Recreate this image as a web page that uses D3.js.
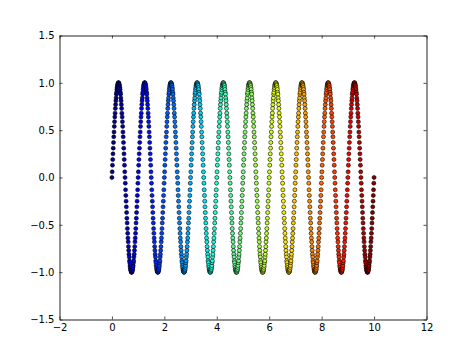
<!DOCTYPE html>
<html>
<head>
<meta charset="utf-8">
<script src="https://cdn.jsdelivr.net/npm/d3@7"></script>
<style>
  body { margin: 0; background: #fff; }
  text { font-family: "DejaVu Sans", sans-serif; }
</style>
</head>
<body>
<script>
// x positions of the scatter points, one line per cycle
const xVals = [
0,0.01,0.02,0.03,0.04,0.05,0.06,0.07,0.08,0.09,0.1,0.11,0.12,0.13,0.14,0.15,0.16,0.17,0.18,0.19,0.2,0.21,0.22,0.23,0.24,0.25,0.26,0.27,0.28,0.29,0.3,0.31,0.32,0.33,0.34,0.35,0.36,0.37,0.38,0.39,0.4,0.41,0.42,0.43,0.44,0.45,0.46,0.47,0.48,0.49,0.5,0.51,0.52,0.53,0.54,0.55,0.56,0.57,0.58,0.59,0.6,0.61,0.62,0.63,0.64,0.65,0.66,0.67,0.68,0.69,0.7,0.71,0.72,0.73,0.74,0.75,0.76,0.77,0.78,0.79,0.8,0.81,0.82,0.83,0.84,0.85,0.86,0.87,0.88,0.89,0.9,0.91,0.92,0.93,0.94,0.95,0.96,0.97,0.98,0.99,
1,1.01,1.02,1.03,1.04,1.05,1.06,1.07,1.08,1.09,1.1,1.11,1.12,1.13,1.14,1.15,1.16,1.17,1.18,1.19,1.2,1.21,1.22,1.23,1.24,1.25,1.26,1.27,1.28,1.29,1.3,1.31,1.32,1.33,1.34,1.35,1.36,1.37,1.38,1.39,1.4,1.41,1.42,1.43,1.44,1.45,1.46,1.47,1.48,1.49,1.5,1.51,1.52,1.53,1.54,1.55,1.56,1.57,1.58,1.59,1.6,1.61,1.62,1.63,1.64,1.65,1.66,1.67,1.68,1.69,1.7,1.71,1.72,1.73,1.74,1.75,1.76,1.77,1.78,1.79,1.8,1.81,1.82,1.83,1.84,1.85,1.86,1.87,1.88,1.89,1.9,1.91,1.92,1.93,1.94,1.95,1.96,1.97,1.98,1.99,
2,2.01,2.02,2.03,2.04,2.05,2.06,2.07,2.08,2.09,2.1,2.11,2.12,2.13,2.14,2.15,2.16,2.17,2.18,2.19,2.2,2.21,2.22,2.23,2.24,2.25,2.26,2.27,2.28,2.29,2.3,2.31,2.32,2.33,2.34,2.35,2.36,2.37,2.38,2.39,2.4,2.41,2.42,2.43,2.44,2.45,2.46,2.47,2.48,2.49,2.5,2.51,2.52,2.53,2.54,2.55,2.56,2.57,2.58,2.59,2.6,2.61,2.62,2.63,2.64,2.65,2.66,2.67,2.68,2.69,2.7,2.71,2.72,2.73,2.74,2.75,2.76,2.77,2.78,2.79,2.8,2.81,2.82,2.83,2.84,2.85,2.86,2.87,2.88,2.89,2.9,2.91,2.92,2.93,2.94,2.95,2.96,2.97,2.98,2.99,
3,3.01,3.02,3.03,3.04,3.05,3.06,3.07,3.08,3.09,3.1,3.11,3.12,3.13,3.14,3.15,3.16,3.17,3.18,3.19,3.2,3.21,3.22,3.23,3.24,3.25,3.26,3.27,3.28,3.29,3.3,3.31,3.32,3.33,3.34,3.35,3.36,3.37,3.38,3.39,3.4,3.41,3.42,3.43,3.44,3.45,3.46,3.47,3.48,3.49,3.5,3.51,3.52,3.53,3.54,3.55,3.56,3.57,3.58,3.59,3.6,3.61,3.62,3.63,3.64,3.65,3.66,3.67,3.68,3.69,3.7,3.71,3.72,3.73,3.74,3.75,3.76,3.77,3.78,3.79,3.8,3.81,3.82,3.83,3.84,3.85,3.86,3.87,3.88,3.89,3.9,3.91,3.92,3.93,3.94,3.95,3.96,3.97,3.98,3.99,
4,4.01,4.02,4.03,4.04,4.05,4.06,4.07,4.08,4.09,4.1,4.11,4.12,4.13,4.14,4.15,4.16,4.17,4.18,4.19,4.2,4.21,4.22,4.23,4.24,4.25,4.26,4.27,4.28,4.29,4.3,4.31,4.32,4.33,4.34,4.35,4.36,4.37,4.38,4.39,4.4,4.41,4.42,4.43,4.44,4.45,4.46,4.47,4.48,4.49,4.5,4.51,4.52,4.53,4.54,4.55,4.56,4.57,4.58,4.59,4.6,4.61,4.62,4.63,4.64,4.65,4.66,4.67,4.68,4.69,4.7,4.71,4.72,4.73,4.74,4.75,4.76,4.77,4.78,4.79,4.8,4.81,4.82,4.83,4.84,4.85,4.86,4.87,4.88,4.89,4.9,4.91,4.92,4.93,4.94,4.95,4.96,4.97,4.98,4.99,
5,5.01,5.02,5.03,5.04,5.05,5.06,5.07,5.08,5.09,5.1,5.11,5.12,5.13,5.14,5.15,5.16,5.17,5.18,5.19,5.2,5.21,5.22,5.23,5.24,5.25,5.26,5.27,5.28,5.29,5.3,5.31,5.32,5.33,5.34,5.35,5.36,5.37,5.38,5.39,5.4,5.41,5.42,5.43,5.44,5.45,5.46,5.47,5.48,5.49,5.5,5.51,5.52,5.53,5.54,5.55,5.56,5.57,5.58,5.59,5.6,5.61,5.62,5.63,5.64,5.65,5.66,5.67,5.68,5.69,5.7,5.71,5.72,5.73,5.74,5.75,5.76,5.77,5.78,5.79,5.8,5.81,5.82,5.83,5.84,5.85,5.86,5.87,5.88,5.89,5.9,5.91,5.92,5.93,5.94,5.95,5.96,5.97,5.98,5.99,
6,6.01,6.02,6.03,6.04,6.05,6.06,6.07,6.08,6.09,6.1,6.11,6.12,6.13,6.14,6.15,6.16,6.17,6.18,6.19,6.2,6.21,6.22,6.23,6.24,6.25,6.26,6.27,6.28,6.29,6.3,6.31,6.32,6.33,6.34,6.35,6.36,6.37,6.38,6.39,6.4,6.41,6.42,6.43,6.44,6.45,6.46,6.47,6.48,6.49,6.5,6.51,6.52,6.53,6.54,6.55,6.56,6.57,6.58,6.59,6.6,6.61,6.62,6.63,6.64,6.65,6.66,6.67,6.68,6.69,6.7,6.71,6.72,6.73,6.74,6.75,6.76,6.77,6.78,6.79,6.8,6.81,6.82,6.83,6.84,6.85,6.86,6.87,6.88,6.89,6.9,6.91,6.92,6.93,6.94,6.95,6.96,6.97,6.98,6.99,
7,7.01,7.02,7.03,7.04,7.05,7.06,7.07,7.08,7.09,7.1,7.11,7.12,7.13,7.14,7.15,7.16,7.17,7.18,7.19,7.2,7.21,7.22,7.23,7.24,7.25,7.26,7.27,7.28,7.29,7.3,7.31,7.32,7.33,7.34,7.35,7.36,7.37,7.38,7.39,7.4,7.41,7.42,7.43,7.44,7.45,7.46,7.47,7.48,7.49,7.5,7.51,7.52,7.53,7.54,7.55,7.56,7.57,7.58,7.59,7.6,7.61,7.62,7.63,7.64,7.65,7.66,7.67,7.68,7.69,7.7,7.71,7.72,7.73,7.74,7.75,7.76,7.77,7.78,7.79,7.8,7.81,7.82,7.83,7.84,7.85,7.86,7.87,7.88,7.89,7.9,7.91,7.92,7.93,7.94,7.95,7.96,7.97,7.98,7.99,
8,8.01,8.02,8.03,8.04,8.05,8.06,8.07,8.08,8.09,8.1,8.11,8.12,8.13,8.14,8.15,8.16,8.17,8.18,8.19,8.2,8.21,8.22,8.23,8.24,8.25,8.26,8.27,8.28,8.29,8.3,8.31,8.32,8.33,8.34,8.35,8.36,8.37,8.38,8.39,8.4,8.41,8.42,8.43,8.44,8.45,8.46,8.47,8.48,8.49,8.5,8.51,8.52,8.53,8.54,8.55,8.56,8.57,8.58,8.59,8.6,8.61,8.62,8.63,8.64,8.65,8.66,8.67,8.68,8.69,8.7,8.71,8.72,8.73,8.74,8.75,8.76,8.77,8.78,8.79,8.8,8.81,8.82,8.83,8.84,8.85,8.86,8.87,8.88,8.89,8.9,8.91,8.92,8.93,8.94,8.95,8.96,8.97,8.98,8.99,
9,9.01,9.02,9.03,9.04,9.05,9.06,9.07,9.08,9.09,9.1,9.11,9.12,9.13,9.14,9.15,9.16,9.17,9.18,9.19,9.2,9.21,9.22,9.23,9.24,9.25,9.26,9.27,9.28,9.29,9.3,9.31,9.32,9.33,9.34,9.35,9.36,9.37,9.38,9.39,9.4,9.41,9.42,9.43,9.44,9.45,9.46,9.47,9.48,9.49,9.5,9.51,9.52,9.53,9.54,9.55,9.56,9.57,9.58,9.59,9.6,9.61,9.62,9.63,9.64,9.65,9.66,9.67,9.68,9.69,9.7,9.71,9.72,9.73,9.74,9.75,9.76,9.77,9.78,9.79,9.8,9.81,9.82,9.83,9.84,9.85,9.86,9.87,9.88,9.89,9.9,9.91,9.92,9.93,9.94,9.95,9.96,9.97,9.98,9.99,
10
];

const yVals = [
0,0.06,0.13,0.19,0.25,0.31,0.37,0.43,0.48,0.54,0.59,0.64,0.68,0.73,0.77,0.81,0.84,0.88,0.9,0.93,0.95,0.97,0.98,0.99,1,1,1,0.99,0.98,0.97,0.95,0.93,0.9,0.88,0.84,0.81,0.77,0.73,0.68,0.64,0.59,0.54,0.48,0.43,0.37,0.31,0.25,0.19,0.13,0.06,0,-0.06,-0.13,-0.19,-0.25,-0.31,-0.37,-0.43,-0.48,-0.54,-0.59,-0.64,-0.68,-0.73,-0.77,-0.81,-0.84,-0.88,-0.9,-0.93,-0.95,-0.97,-0.98,-0.99,-1,-1,-1,-0.99,-0.98,-0.97,-0.95,-0.93,-0.9,-0.88,-0.84,-0.81,-0.77,-0.73,-0.68,-0.64,-0.59,-0.54,-0.48,-0.43,-0.37,-0.31,-0.25,-0.19,-0.13,-0.06,
0,0.06,0.13,0.19,0.25,0.31,0.37,0.43,0.48,0.54,0.59,0.64,0.68,0.73,0.77,0.81,0.84,0.88,0.9,0.93,0.95,0.97,0.98,0.99,1,1,1,0.99,0.98,0.97,0.95,0.93,0.9,0.88,0.84,0.81,0.77,0.73,0.68,0.64,0.59,0.54,0.48,0.43,0.37,0.31,0.25,0.19,0.13,0.06,0,-0.06,-0.13,-0.19,-0.25,-0.31,-0.37,-0.43,-0.48,-0.54,-0.59,-0.64,-0.68,-0.73,-0.77,-0.81,-0.84,-0.88,-0.9,-0.93,-0.95,-0.97,-0.98,-0.99,-1,-1,-1,-0.99,-0.98,-0.97,-0.95,-0.93,-0.9,-0.88,-0.84,-0.81,-0.77,-0.73,-0.68,-0.64,-0.59,-0.54,-0.48,-0.43,-0.37,-0.31,-0.25,-0.19,-0.13,-0.06,
0,0.06,0.13,0.19,0.25,0.31,0.37,0.43,0.48,0.54,0.59,0.64,0.68,0.73,0.77,0.81,0.84,0.88,0.9,0.93,0.95,0.97,0.98,0.99,1,1,1,0.99,0.98,0.97,0.95,0.93,0.9,0.88,0.84,0.81,0.77,0.73,0.68,0.64,0.59,0.54,0.48,0.43,0.37,0.31,0.25,0.19,0.13,0.06,0,-0.06,-0.13,-0.19,-0.25,-0.31,-0.37,-0.43,-0.48,-0.54,-0.59,-0.64,-0.68,-0.73,-0.77,-0.81,-0.84,-0.88,-0.9,-0.93,-0.95,-0.97,-0.98,-0.99,-1,-1,-1,-0.99,-0.98,-0.97,-0.95,-0.93,-0.9,-0.88,-0.84,-0.81,-0.77,-0.73,-0.68,-0.64,-0.59,-0.54,-0.48,-0.43,-0.37,-0.31,-0.25,-0.19,-0.13,-0.06,
0,0.06,0.13,0.19,0.25,0.31,0.37,0.43,0.48,0.54,0.59,0.64,0.68,0.73,0.77,0.81,0.84,0.88,0.9,0.93,0.95,0.97,0.98,0.99,1,1,1,0.99,0.98,0.97,0.95,0.93,0.9,0.88,0.84,0.81,0.77,0.73,0.68,0.64,0.59,0.54,0.48,0.43,0.37,0.31,0.25,0.19,0.13,0.06,0,-0.06,-0.13,-0.19,-0.25,-0.31,-0.37,-0.43,-0.48,-0.54,-0.59,-0.64,-0.68,-0.73,-0.77,-0.81,-0.84,-0.88,-0.9,-0.93,-0.95,-0.97,-0.98,-0.99,-1,-1,-1,-0.99,-0.98,-0.97,-0.95,-0.93,-0.9,-0.88,-0.84,-0.81,-0.77,-0.73,-0.68,-0.64,-0.59,-0.54,-0.48,-0.43,-0.37,-0.31,-0.25,-0.19,-0.13,-0.06,
0,0.06,0.13,0.19,0.25,0.31,0.37,0.43,0.48,0.54,0.59,0.64,0.68,0.73,0.77,0.81,0.84,0.88,0.9,0.93,0.95,0.97,0.98,0.99,1,1,1,0.99,0.98,0.97,0.95,0.93,0.9,0.88,0.84,0.81,0.77,0.73,0.68,0.64,0.59,0.54,0.48,0.43,0.37,0.31,0.25,0.19,0.13,0.06,0,-0.06,-0.13,-0.19,-0.25,-0.31,-0.37,-0.43,-0.48,-0.54,-0.59,-0.64,-0.68,-0.73,-0.77,-0.81,-0.84,-0.88,-0.9,-0.93,-0.95,-0.97,-0.98,-0.99,-1,-1,-1,-0.99,-0.98,-0.97,-0.95,-0.93,-0.9,-0.88,-0.84,-0.81,-0.77,-0.73,-0.68,-0.64,-0.59,-0.54,-0.48,-0.43,-0.37,-0.31,-0.25,-0.19,-0.13,-0.06,
0,0.06,0.13,0.19,0.25,0.31,0.37,0.43,0.48,0.54,0.59,0.64,0.68,0.73,0.77,0.81,0.84,0.88,0.9,0.93,0.95,0.97,0.98,0.99,1,1,1,0.99,0.98,0.97,0.95,0.93,0.9,0.88,0.84,0.81,0.77,0.73,0.68,0.64,0.59,0.54,0.48,0.43,0.37,0.31,0.25,0.19,0.13,0.06,0,-0.06,-0.13,-0.19,-0.25,-0.31,-0.37,-0.43,-0.48,-0.54,-0.59,-0.64,-0.68,-0.73,-0.77,-0.81,-0.84,-0.88,-0.9,-0.93,-0.95,-0.97,-0.98,-0.99,-1,-1,-1,-0.99,-0.98,-0.97,-0.95,-0.93,-0.9,-0.88,-0.84,-0.81,-0.77,-0.73,-0.68,-0.64,-0.59,-0.54,-0.48,-0.43,-0.37,-0.31,-0.25,-0.19,-0.13,-0.06,
0,0.06,0.13,0.19,0.25,0.31,0.37,0.43,0.48,0.54,0.59,0.64,0.68,0.73,0.77,0.81,0.84,0.88,0.9,0.93,0.95,0.97,0.98,0.99,1,1,1,0.99,0.98,0.97,0.95,0.93,0.9,0.88,0.84,0.81,0.77,0.73,0.68,0.64,0.59,0.54,0.48,0.43,0.37,0.31,0.25,0.19,0.13,0.06,0,-0.06,-0.13,-0.19,-0.25,-0.31,-0.37,-0.43,-0.48,-0.54,-0.59,-0.64,-0.68,-0.73,-0.77,-0.81,-0.84,-0.88,-0.9,-0.93,-0.95,-0.97,-0.98,-0.99,-1,-1,-1,-0.99,-0.98,-0.97,-0.95,-0.93,-0.9,-0.88,-0.84,-0.81,-0.77,-0.73,-0.68,-0.64,-0.59,-0.54,-0.48,-0.43,-0.37,-0.31,-0.25,-0.19,-0.13,-0.06,
0,0.06,0.13,0.19,0.25,0.31,0.37,0.43,0.48,0.54,0.59,0.64,0.68,0.73,0.77,0.81,0.84,0.88,0.9,0.93,0.95,0.97,0.98,0.99,1,1,1,0.99,0.98,0.97,0.95,0.93,0.9,0.88,0.84,0.81,0.77,0.73,0.68,0.64,0.59,0.54,0.48,0.43,0.37,0.31,0.25,0.19,0.13,0.06,0,-0.06,-0.13,-0.19,-0.25,-0.31,-0.37,-0.43,-0.48,-0.54,-0.59,-0.64,-0.68,-0.73,-0.77,-0.81,-0.84,-0.88,-0.9,-0.93,-0.95,-0.97,-0.98,-0.99,-1,-1,-1,-0.99,-0.98,-0.97,-0.95,-0.93,-0.9,-0.88,-0.84,-0.81,-0.77,-0.73,-0.68,-0.64,-0.59,-0.54,-0.48,-0.43,-0.37,-0.31,-0.25,-0.19,-0.13,-0.06,
0,0.06,0.13,0.19,0.25,0.31,0.37,0.43,0.48,0.54,0.59,0.64,0.68,0.73,0.77,0.81,0.84,0.88,0.9,0.93,0.95,0.97,0.98,0.99,1,1,1,0.99,0.98,0.97,0.95,0.93,0.9,0.88,0.84,0.81,0.77,0.73,0.68,0.64,0.59,0.54,0.48,0.43,0.37,0.31,0.25,0.19,0.13,0.06,0,-0.06,-0.13,-0.19,-0.25,-0.31,-0.37,-0.43,-0.48,-0.54,-0.59,-0.64,-0.68,-0.73,-0.77,-0.81,-0.84,-0.88,-0.9,-0.93,-0.95,-0.97,-0.98,-0.99,-1,-1,-1,-0.99,-0.98,-0.97,-0.95,-0.93,-0.9,-0.88,-0.84,-0.81,-0.77,-0.73,-0.68,-0.64,-0.59,-0.54,-0.48,-0.43,-0.37,-0.31,-0.25,-0.19,-0.13,-0.06,
0,0.06,0.13,0.19,0.25,0.31,0.37,0.43,0.48,0.54,0.59,0.64,0.68,0.73,0.77,0.81,0.84,0.88,0.9,0.93,0.95,0.97,0.98,0.99,1,1,1,0.99,0.98,0.97,0.95,0.93,0.9,0.88,0.84,0.81,0.77,0.73,0.68,0.64,0.59,0.54,0.48,0.43,0.37,0.31,0.25,0.19,0.13,0.06,0,-0.06,-0.13,-0.19,-0.25,-0.31,-0.37,-0.43,-0.48,-0.54,-0.59,-0.64,-0.68,-0.73,-0.77,-0.81,-0.84,-0.88,-0.9,-0.93,-0.95,-0.97,-0.98,-0.99,-1,-1,-1,-0.99,-0.98,-0.97,-0.95,-0.93,-0.9,-0.88,-0.84,-0.81,-0.77,-0.73,-0.68,-0.64,-0.59,-0.54,-0.48,-0.43,-0.37,-0.31,-0.25,-0.19,-0.13,-0.06,
0
];

const xTicks = [-2, 0, 2, 4, 6, 8, 10, 12];
const yTicks = [-1.5, -1.0, -0.5, 0.0, 0.5, 1.0, 1.5];

const points = xVals.map((x, i) => ({x: x, y: yVals[i]}));

const width = 474;
const height = 355;
const margin = {top: 35.5, right: 47.5, bottom: 35.5, left: 59.5};

const x = d3.scaleLinear([-2, 12], [margin.left, width - margin.right]);
const y = d3.scaleLinear([-1.5, 1.5], [height - margin.bottom, margin.top]);

// matplotlib "jet" colormap, one piecewise linear scale per channel
const jetR = d3.scaleLinear([0, 0.35, 0.66, 0.89, 1], [0, 0, 1, 1, 0.5]).clamp(true);
const jetG = d3.scaleLinear([0, 0.125, 0.375, 0.64, 0.91, 1], [0, 0, 1, 1, 0, 0]).clamp(true);
const jetB = d3.scaleLinear([0, 0.11, 0.34, 0.65, 1], [0.5, 1, 1, 0, 0]).clamp(true);
const norm = d3.scaleLinear(d3.extent(xVals), [0, 1]);
const color = v => {
    const t = norm(v);
    return d3.rgb(jetR(t) * 255, jetG(t) * 255, jetB(t) * 255).formatHex();
};

const svg = d3.select("body")
    .append("svg")
    .attr("width", width)
    .attr("height", height)
    .attr("viewBox", [0, 0, width, height]);

svg.append("rect")
    .attr("width", width)
    .attr("height", height)
    .attr("fill", "#fff");

// the dots, drawn in order so later ones sit on top
svg.append("g")
    .selectAll("circle")
    .data(points)
    .join("circle")
    .attr("cx", d => x(d.x))
    .attr("cy", d => y(d.y))
    .attr("r", 2)
    .attr("fill", d => color(d.x))
    .attr("stroke", "#000")
    .attr("stroke-width", 0.6);

const fmtY = d3.format(".1f");

// axes: ticks point inward, matplotlib classic style
const axisB = svg.append("g")
    .attr("transform", `translate(0,${height - margin.bottom})`)
    .call(d3.axisBottom(x).tickValues(xTicks).tickSizeInner(-3).tickSizeOuter(0).tickPadding(4));

const axisL = svg.append("g")
    .attr("transform", `translate(${margin.left},0)`)
    .call(d3.axisLeft(y).tickValues(yTicks).tickFormat(fmtY).tickSizeInner(-3).tickSizeOuter(0).tickPadding(5));

const axisT = svg.append("g")
    .attr("transform", `translate(0,${margin.top})`)
    .call(d3.axisTop(x).tickValues(xTicks).tickFormat("").tickSizeInner(-3).tickSizeOuter(0));

const axisR = svg.append("g")
    .attr("transform", `translate(${width - margin.right},0)`)
    .call(d3.axisRight(y).tickValues(yTicks).tickFormat("").tickSizeInner(-3).tickSizeOuter(0));

svg.selectAll(".domain").attr("stroke", "#222").attr("stroke-width", 1);
svg.selectAll(".tick line").attr("stroke", "#222").attr("stroke-width", 0.8);
svg.selectAll(".tick text")
    .attr("fill", "#000")
    .attr("font-size", 10)
    .attr("font-family", "DejaVu Sans");
</script>
</body>
</html>
